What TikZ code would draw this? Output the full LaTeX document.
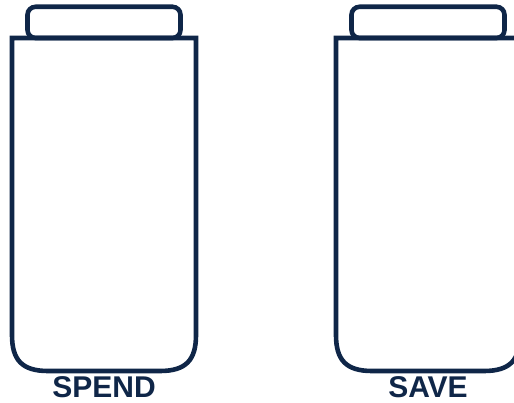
\documentclass[tikz,border=0pt]{standalone}
\usepackage{fontspec}
\setmainfont{Liberation Sans}
\definecolor{navy}{HTML}{0F2648}
\tikzset{
  jarline/.style={draw=navy,line width=4.6pt,line join=miter},
  lidline/.style={draw=navy,line width=4.6pt,rounded corners=8pt},
  jarlabel/.style={text=navy,font=\fontsize{30}{30}\selectfont\bfseries,inner sep=0pt,anchor=base}
}
\begin{document}
\begin{tikzpicture}[x=1pt,y=-1pt]
\path[use as bounding box] (0,0) rectangle (514,403);
\clip (0,0) rectangle (514,403);
\foreach \dx in {0,324}{
  \begin{scope}[xshift=\dx pt]
    \draw[lidline] (27.5,38) -- (27.5,6.8) -- (180.5,6.8) -- (180.5,38) -- cycle;
    \draw[jarline] (12,38) -- (196,38) -- (196,335)
      .. controls (196,360) and (186,371) .. (160,371) -- (48,371)
      .. controls (22,371) and (12,360) .. (12,335) -- cycle;
  \end{scope}
}
\node[jarlabel] (spend) at (104,397) {SPEND};
\node[jarlabel] (save) at (428,397) {SAVE};
\end{tikzpicture}
\end{document}
